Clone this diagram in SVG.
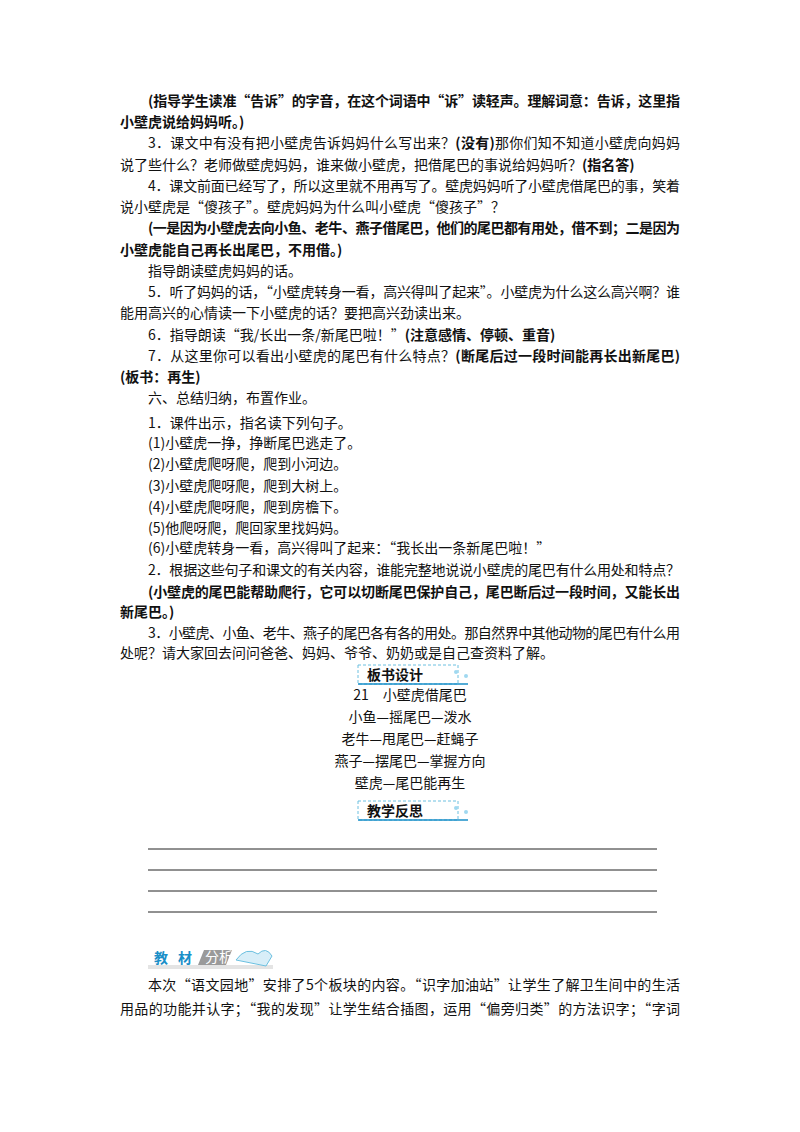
<svg xmlns="http://www.w3.org/2000/svg" width="800" height="1132" viewBox="0 0 800 1132">
<style>
text{font-family:"Noto Sans CJK SC","Liberation Serif",serif;font-size:14px;fill:#111}
.b{font-weight:bold}
.ln{stroke:#222;stroke-width:1}
</style>
<rect width="800" height="1132" fill="#fff"/>
<g id="body">
<text x="148" y="106" textLength="532" lengthAdjust="spacing"><tspan class="b">(指导学生读准“告诉”的字音，在这个词语中“诉”读轻声。理解词意：告诉，这里指</tspan></text>
<text x="120" y="127"><tspan class="b">小壁虎说给妈妈听。)</tspan></text>
<text x="148" y="148" textLength="532" lengthAdjust="spacing">3．课文中有没有把小壁虎告诉妈妈什么写出来？<tspan class="b">(没有)</tspan>那你们知不知道小壁虎向妈妈</text>
<text x="120" y="170">说了些什么？老师做壁虎妈妈，谁来做小壁虎，把借尾巴的事说给妈妈听？<tspan class="b">(指名答)</tspan></text>
<text x="148" y="191" textLength="532" lengthAdjust="spacing">4．课文前面已经写了，所以这里就不用再写了。壁虎妈妈听了小壁虎借尾巴的事，笑着</text>
<text x="120" y="212">说小壁虎是“傻孩子”。壁虎妈妈为什么叫小壁虎“傻孩子”？</text>
<text x="148" y="233" textLength="532" lengthAdjust="spacing" class="b">(一是因为小壁虎去向小鱼、老牛、燕子借尾巴，他们的尾巴都有用处，借不到；二是因为</text>
<text x="120" y="255" class="b">小壁虎能自己再长出尾巴，不用借。)</text>
<text x="148" y="276">指导朗读壁虎妈妈的话。</text>
<text x="148" y="297" textLength="532" lengthAdjust="spacing">5．听了妈妈的话，“小壁虎转身一看，高兴得叫了起来”。小壁虎为什么这么高兴啊？谁</text>
<text x="120" y="318">能用高兴的心情读一下小壁虎的话？要把高兴劲读出来。</text>
<text x="148" y="340">6．指导朗读“我/长出一条/新尾巴啦！”<tspan class="b">(注意感情、停顿、重音)</tspan></text>
<text x="148" y="361" textLength="532" lengthAdjust="spacing">7．从这里你可以看出小壁虎的尾巴有什么特点？<tspan class="b">(断尾后过一段时间能再长出新尾巴)</tspan></text>
<text x="120" y="382" class="b">(板书：再生)</text>
<text x="148" y="403">六、总结归纳，布置作业。</text>
<text x="148" y="428">1．课件出示，指名读下列句子。</text>
<text x="148" y="448">(1)小壁虎一挣，挣断尾巴逃走了。</text>
<text x="148" y="469">(2)小壁虎爬呀爬，爬到小河边。</text>
<text x="148" y="491">(3)小壁虎爬呀爬，爬到大树上。</text>
<text x="148" y="512">(4)小壁虎爬呀爬，爬到房檐下。</text>
<text x="148" y="533">(5)他爬呀爬，爬回家里找妈妈。</text>
<text x="148" y="553">(6)小壁虎转身一看，高兴得叫了起来：“我长出一条新尾巴啦！”</text>
<text x="148" y="575" textLength="532" lengthAdjust="spacing">2．根据这些句子和课文的有关内容，谁能完整地说说小壁虎的尾巴有什么用处和特点？</text>
<text x="148" y="597" textLength="532" lengthAdjust="spacing" class="b">(小壁虎的尾巴能帮助爬行，它可以切断尾巴保护自己，尾巴断后过一段时间，又能长出</text>
<text x="120" y="617" class="b">新尾巴。)</text>
<text x="148" y="638" textLength="532" lengthAdjust="spacing">3．小壁虎、小鱼、老牛、燕子的尾巴各有各的用处。那自然界中其他动物的尾巴有什么用</text>
<text x="120" y="658">处呢？请大家回去问问爸爸、妈妈、爷爷、奶奶或是自己查资料了解。</text>
</g>
<g id="banshu-title">
<rect x="358" y="665" width="100" height="19" fill="none" stroke="#6cc0e0" stroke-dasharray="3,2"/>
<line x1="358" y1="684" x2="468" y2="684" stroke="#1a8fc8" stroke-width="1.5"/>
<circle cx="456" cy="672" r="2" fill="#a0d8f0"/><circle cx="466" cy="676" r="2" fill="#a0d8f0"/>
<text x="367" y="680" class="b">板书设计</text>
</g>
<g id="banshu">
<text x="410" y="700" text-anchor="middle">21　小壁虎借尾巴</text>
<text x="410" y="722" text-anchor="middle">小鱼—摇尾巴—泼水</text>
<text x="410" y="744" text-anchor="middle">老牛—甩尾巴—赶蝇子</text>
<text x="410" y="766" text-anchor="middle">燕子—摆尾巴—掌握方向</text>
<text x="410" y="788" text-anchor="middle">壁虎—尾巴能再生</text>
</g>
<g id="fansi-title">
<rect x="358" y="801" width="100" height="19" fill="none" stroke="#6cc0e0" stroke-dasharray="3,2"/>
<line x1="358" y1="820" x2="468" y2="820" stroke="#1a8fc8" stroke-width="1.5"/>
<circle cx="456" cy="808" r="2" fill="#a0d8f0"/><circle cx="466" cy="812" r="2" fill="#a0d8f0"/>
<text x="367" y="816" class="b">教学反思</text>
</g>
<g id="lines">
<line class="ln" x1="148" y1="849" x2="657" y2="849"/>
<line class="ln" x1="148" y1="870" x2="657" y2="870"/>
<line class="ln" x1="148" y1="891" x2="657" y2="891"/>
<line class="ln" x1="148" y1="912" x2="657" y2="912"/>
</g>
<g id="jiaocai">
<rect x="148" y="965" width="125" height="4" fill="#e4e4e4"/>
<text x="154" y="963" class="b" font-size="15" style="fill:#1a8fc8">教</text>
<text x="178" y="963" class="b" font-size="15" style="fill:#1a8fc8">材</text>
<polygon points="198,965 204,950 232,950 226,965" fill="#9a9a9a"/>
<text x="205" y="962" font-size="11" style="fill:#fff">分析</text>
<path d="M236,960 q10,-14 22,-6 q8,-8 14,2 l-6,10 z" fill="#d8eef8" stroke="#6cc0e0"/>
</g>
<g id="tail">
<text x="148" y="990" textLength="532" lengthAdjust="spacing">本次“语文园地”安排了5个板块的内容。“识字加油站”让学生了解卫生间中的生活</text>
<text x="120" y="1014" textLength="560" lengthAdjust="spacing">用品的功能并认字；“我的发现”让学生结合插图，运用“偏旁归类”的方法识字；“字词</text>
</g>
</svg>
